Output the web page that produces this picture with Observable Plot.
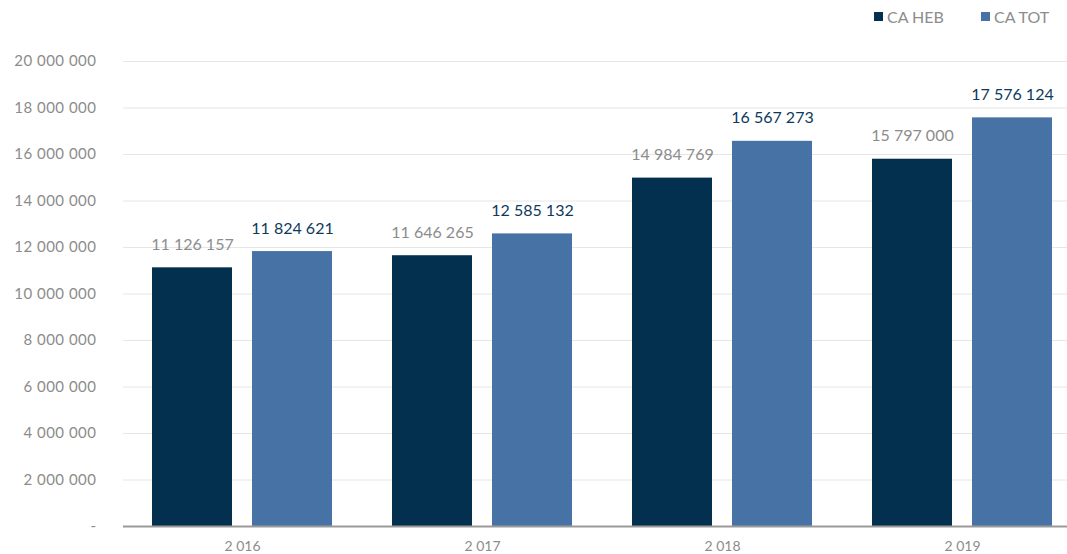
<!DOCTYPE html>
<html>
<head>
<meta charset="utf-8">
<script src="https://cdn.jsdelivr.net/npm/d3@7"></script>
<script src="https://cdn.jsdelivr.net/npm/@observablehq/plot@0.6"></script>
<style>
  html, body { margin: 0; padding: 0; background: #fff; }
  body { width: 1067px; height: 554px; overflow: hidden; font-family: Lato, "Open Sans", sans-serif; }
  #legend { height: 34px; position: relative; font-size: 16px; color: #8c8c8c; }
  #legend .item { position: absolute; top: 7px; display: flex; align-items: center; }
  #legend .sw { width: 9px; height: 9px; margin-right: 4px; }
  #chart svg g[aria-label="y-axis tick label"] text { letter-spacing: 0.5px; }
</style>
</head>
<body>
<div id="legend"></div>
<div id="chart"></div>
<script>
const years = ["2 016", "2 017", "2 018", "2 019"];
const series = ["CA HEB", "CA TOT"];
const caHeb = [11126157, 11646265, 14984769, 15797000];
const caTot = [11824621, 12585132, 16567273, 17576124];
const colors = ["#03304e", "#4672a6"];
const labelColors = ["#8c8c8c", "#0d3a5c"];
const yTicks = [0, 2e6, 4e6, 6e6, 8e6, 10e6, 12e6, 14e6, 16e6, 18e6, 20e6];

const fmt = v => v === 0 ? "-" : d3.format(",")(v).replace(/,/g, " ");

const data = [];
years.forEach((y, i) => {
  data.push({year: y, series: series[0], value: caHeb[i]});
  data.push({year: y, series: series[1], value: caTot[i]});
});

// legend
const legend = document.getElementById("legend");
const legendLeft = [874, 981];
series.forEach((s, i) => {
  const it = document.createElement("div");
  it.className = "item";
  it.style.left = legendLeft[i] + "px";
  it.innerHTML = `<span class="sw" style="background:${colors[i]}"></span><span>${s}</span>`;
  legend.appendChild(it);
});

const heb = data.filter(d => d.series === series[0]);
const tot = data.filter(d => d.series === series[1]);

const chart = Plot.plot({
  width: 1067,
  height: 520,
  marginLeft: 123,
  marginRight: 0,
  marginTop: 27,
  marginBottom: 28,
  style: {fontFamily: "Lato, 'Open Sans', sans-serif", background: "#fff"},
  x: {domain: years, paddingInner: 0.25, paddingOuter: 0.085, align: 0.67, label: null, tickSize: 0, tickPadding: 14},
  y: {domain: [0, 20e6], label: null, ticks: yTicks, tickFormat: fmt, tickSize: 0, tickPadding: 27},
  marks: [
    Plot.gridY(yTicks.filter(t => t > 0), {stroke: "#e6e6e6", strokeOpacity: 1, strokeWidth: 1}),
    Plot.axisY({ticks: yTicks, tickFormat: fmt, tickSize: 0, tickPadding: 27, fontSize: 15, fill: "#8c8c8c", label: null}),
    Plot.axisX({tickSize: 0, tickPadding: 15, fontSize: 14, fill: "#8c8c8c", label: null}),
    Plot.barY(heb, {x: "year", y: "value", fill: colors[0], insetRight: 100}),
    Plot.barY(tot, {x: "year", y: "value", fill: colors[1], insetLeft: 100}),
    Plot.ruleY([0], {stroke: "#9a9a9a", strokeWidth: 2}),
    Plot.text(heb, {x: "year", y: "value", text: d => fmt(d.value), dx: -50, dy: -23, fill: labelColors[0], fontSize: 16}),
    Plot.text(tot, {x: "year", y: "value", text: d => fmt(d.value), dx: 50, dy: -23, fill: labelColors[1], fontSize: 16})
  ]
});
document.getElementById("chart").appendChild(chart);
</script>
</body>
</html>
